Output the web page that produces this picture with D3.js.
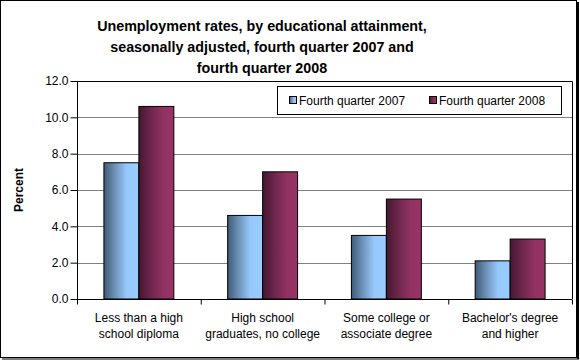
<!DOCTYPE html>
<html><head><meta charset="utf-8">
<script src="https://cdn.jsdelivr.net/npm/d3@7"></script>
<style>body{margin:0;background:#fff}svg{display:block;font-family:"Liberation Sans",Arial,sans-serif}</style>
</head><body><svg id="c" width="580" height="360"></svg>
<script>
const categories = [["Less than a high","school diploma"],["High school","graduates, no college"],["Some college or","associate degree"],["Bachelor's degree","and higher"]];
const seriesNames = ["Fourth quarter 2007","Fourth quarter 2008"];
const q2007 = [7.5, 4.6, 3.5, 2.1];
const q2008 = [10.6, 7.0, 5.5, 3.3];
const yTicks = [0,2,4,6,8,10,12];
const titleLines = ["Unemployment rates, by educational attainment,","seasonally adjusted, fourth quarter 2007 and","fourth quarter 2008"];

const svg = d3.select("#c");
const plot = {l:77, r:572, t:81, b:299};

// outer border
svg.append("rect").attr("x",0.5).attr("y",0.5).attr("width",576).attr("height",357)
  .attr("fill","#fff").attr("stroke","#000").attr("stroke-width",1);
svg.append("line").attr("x1",578).attr("x2",578).attr("y1",2).attr("y2",359).attr("stroke","#000").attr("stroke-width",2);
svg.append("line").attr("x1",2).attr("x2",579).attr("y1",359).attr("y2",359).attr("stroke","#000").attr("stroke-width",1);

const defs = svg.append("defs");
function grad(id, stops){
  const g = defs.append("linearGradient").attr("id",id).attr("x1","0%").attr("x2","100%").attr("y1","0%").attr("y2","0%");
  stops.forEach(s=>g.append("stop").attr("offset",s[0]).attr("stop-color",s[1]));
}
grad("gBlue",[["0%","#405a78"],["30%","#6b8fb4"],["65%","#96c8fb"],["100%","#99ccff"]]);
grad("gMar",[["0%","#441830"],["40%","#74294f"],["70%","#913262"],["100%","#993366"]]);
const fills = ["url(#gBlue)","url(#gMar)"];

const y = d3.scaleLinear().domain([0,12]).range([plot.b, plot.t]);
const x0 = d3.scaleBand().domain(d3.range(categories.length)).range([plot.l, plot.r]).padding(0);
const x1 = d3.scaleBand().domain([0,1]).range([0, x0.bandwidth()]).paddingInner(0).paddingOuter(0.77);

// gridlines
svg.append("g").selectAll("line").data(yTicks.filter(t=>t>0 && t<12)).join("line")
  .attr("x1",plot.l).attr("x2",plot.r).attr("y1",d=>Math.round(y(d))+0.5).attr("y2",d=>Math.round(y(d))+0.5)
  .attr("stroke","#808080").attr("stroke-width",1);

// plot border top/right
svg.append("path").attr("d",`M${plot.l},${Math.round(y(12))+0.5}H${plot.r+0.5}V${plot.b}`)
  .attr("fill","none").attr("stroke","#000").attr("stroke-width",1);

// bars
const data = [q2007, q2008];
data.forEach((vals, si)=>{
  svg.append("g").selectAll("rect").data(vals).join("rect")
    .attr("x",(d,i)=>x0(i)+x1(si))
    .attr("y",d=>y(d))
    .attr("width",x1.bandwidth())
    .attr("height",d=>plot.b-y(d))
    .attr("fill",fills[si]).attr("stroke","#000").attr("stroke-width",1);
});

// y axis
const yAxis = d3.axisLeft(y).tickValues(yTicks).tickFormat(d3.format(".1f")).tickSize(7).tickPadding(2);
const ya = svg.append("g").attr("transform",`translate(${plot.l+0.5},0)`).call(yAxis);
ya.selectAll("text").attr("font-size",12).attr("fill","#000").attr("font-family","Liberation Sans, Arial, sans-serif");
ya.selectAll("line,path").attr("stroke","#000");
ya.select(".domain").attr("d",`M0,${y(12)}V${plot.b}`);

// x axis
const xAxis = d3.axisBottom(d3.scaleLinear().domain([0,categories.length]).range([plot.l,plot.r]))
  .tickValues(d3.range(categories.length+1)).tickSize(5).tickFormat("");
const xa = svg.append("g").attr("transform",`translate(0,${plot.b+0.5})`).call(xAxis);
xa.selectAll("line,path").attr("stroke","#000");
xa.select(".domain").attr("d",`M${plot.l},0H${plot.r}`);

// category labels
const cl = svg.append("g").selectAll("text").data(categories).join("text")
  .attr("x",(d,i)=>x0(i)+x0.bandwidth()/2).attr("y",322)
  .attr("text-anchor","middle").attr("font-size",12).attr("fill","#000");
cl.selectAll("tspan").data(d=>d).join("tspan")
  .attr("x",function(){return this.parentNode.getAttribute("x");})
  .attr("dy",(d,j)=>j===0?0:16).text(d=>d);

// y title
svg.append("text").attr("transform","translate(23,190) rotate(-90)").attr("text-anchor","middle")
  .attr("font-size",12).attr("font-weight","bold").text("Percent");

// title
svg.append("g").selectAll("text").data(titleLines).join("text")
  .attr("x",262).attr("y",(d,i)=>31+i*21).attr("text-anchor","middle")
  .attr("font-size",14.3).attr("font-weight","bold").text(d=>d);

// legend
const lg = svg.append("g");
lg.append("rect").attr("x",277.5).attr("y",86.5).attr("width",284).attr("height",28)
  .attr("fill","#fff").attr("stroke","#000");
const lx = [289, 429];
seriesNames.forEach((n,i)=>{
  lg.append("rect").attr("x",lx[i]+0.5).attr("y",96.5).attr("width",7).attr("height",7)
    .attr("fill",fills[i]).attr("stroke","#000");
  lg.append("text").attr("x",lx[i]+10).attr("y",105).attr("font-size",12).text(n);
});
</script></body></html>
